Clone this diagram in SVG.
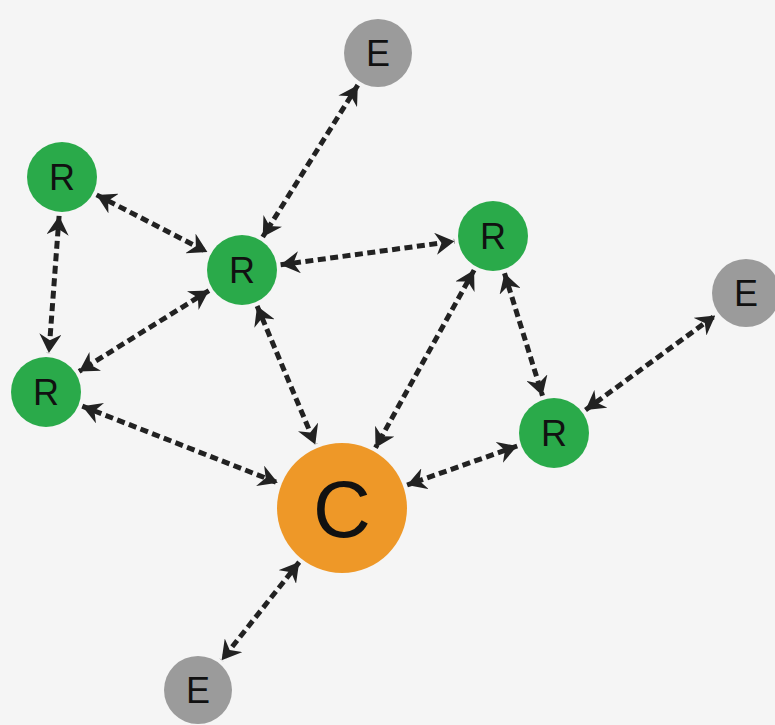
<svg xmlns="http://www.w3.org/2000/svg" width="775" height="725" viewBox="0 0 775 725">
<style>
.bg{fill:#f5f5f5}
.r{fill:#2aaa4a}
.e{fill:#9b9b9b}
.c{fill:#ee9828}
.lbl{font-family:"Liberation Sans","DejaVu Sans",sans-serif;font-size:36px;fill:#111;text-anchor:middle}
.big{font-size:80px}
.edge{stroke:#222;stroke-width:5;stroke-dasharray:8 4.5;fill:none;marker-start:url(#ah);marker-end:url(#ah)}
</style>
<defs>
<marker id="ah" markerUnits="userSpaceOnUse" markerWidth="19" markerHeight="22" refX="19" refY="11" orient="auto-start-reverse" viewBox="0 0 19 22">
<path d="M0,0 L19,11 L0,22 L6,11 z" fill="#222"/>
</marker>
</defs>
<rect class="bg" x="0" y="0" width="775" height="725"/>
<g id="connectors">
<line class="edge" x1="357.8" y1="85.2" x2="262.7" y2="237"/>
<line class="edge" x1="96.6" y1="194.9" x2="207.4" y2="252.1"/>
<line class="edge" x1="59.1" y1="215.9" x2="48.9" y2="353.1"/>
<line class="edge" x1="208.9" y1="290.6" x2="79.1" y2="371.4"/>
<line class="edge" x1="280.6" y1="264.8" x2="454.4" y2="241.2"/>
<line class="edge" x1="257.1" y1="306" x2="315.3" y2="444.4"/>
<line class="edge" x1="82.3" y1="406.2" x2="277.8" y2="482.8"/>
<line class="edge" x1="474.1" y1="270.1" x2="375.5" y2="447.7"/>
<line class="edge" x1="504.5" y1="273.2" x2="542.5" y2="395.8"/>
<line class="edge" x1="585.5" y1="410" x2="715.3" y2="315.4"/>
<line class="edge" x1="517.2" y1="446" x2="407.1" y2="485"/>
<line class="edge" x1="299.2" y1="562.1" x2="221.6" y2="660.2"/>
</g>
<g id="E1"><circle class="e" cx="378" cy="53" r="34"/><text class="lbl" x="378" y="66">E</text></g>
<g id="R1"><circle class="r" cx="62" cy="177" r="35"/><text class="lbl" x="62" y="190">R</text></g>
<g id="R2"><circle class="r" cx="242" cy="270" r="35"/><text class="lbl" x="242" y="283">R</text></g>
<g id="R3"><circle class="r" cx="493" cy="236" r="35"/><text class="lbl" x="493" y="249">R</text></g>
<g id="E2"><circle class="e" cx="746" cy="293" r="34"/><text class="lbl" x="746" y="306">E</text></g>
<g id="R4"><circle class="r" cx="46" cy="392" r="35"/><text class="lbl" x="46" y="405">R</text></g>
<g id="R5"><circle class="r" cx="554" cy="433" r="35"/><text class="lbl" x="554" y="446">R</text></g>
<g id="C"><circle class="c" cx="342" cy="508" r="65"/><text class="lbl big" x="342" y="537">C</text></g>
<g id="E3"><circle class="e" cx="198" cy="690" r="34"/><text class="lbl" x="198" y="703">E</text></g>
</svg>
